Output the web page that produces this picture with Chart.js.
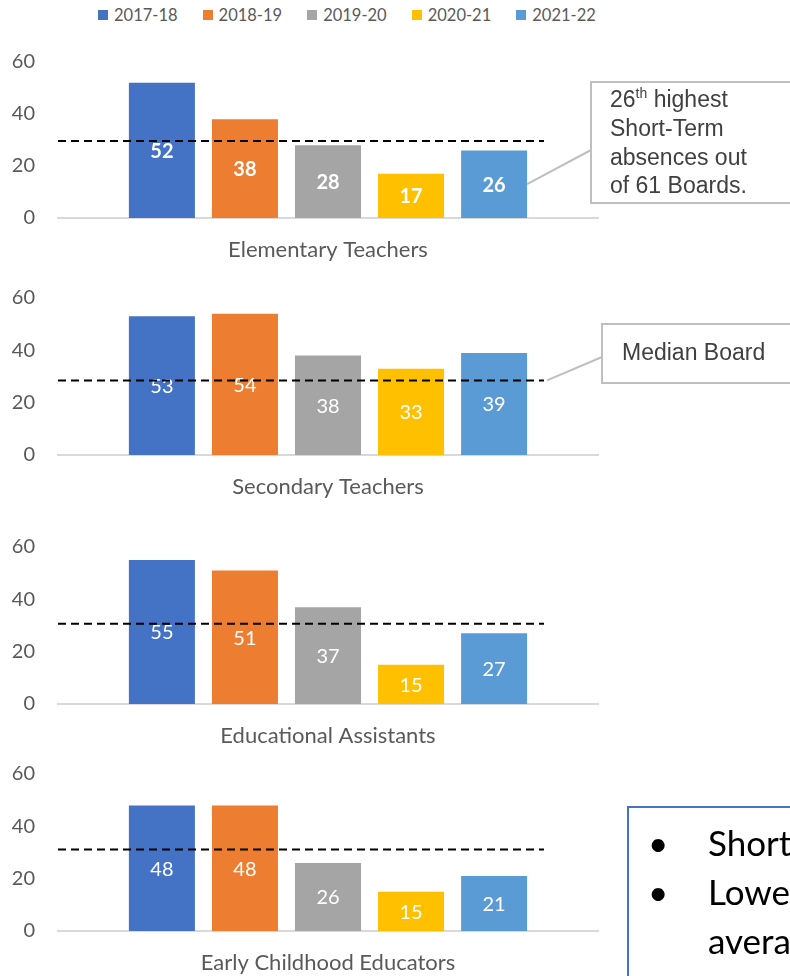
<!DOCTYPE html>
<html>
<head>
<meta charset="utf-8">
<title>Short-Term absences by employee group</title>
<script src="https://cdn.jsdelivr.net/npm/chart.js@4.4.1/dist/chart.umd.min.js"></script>
<style>
  html, body { margin: 0; padding: 0; width: 790px; height: 976px; overflow: hidden; background: #fff; }
  body { position: relative; font-family: Lato, "Open Sans", sans-serif; }
  canvas { position: absolute; left: 0; }
  #legend { position: absolute; left: 98px; top: 5px; margin: 0; padding: 0; list-style: none;
            display: flex; gap: 25px; font-size: 16.5px; line-height: 20px; color: #595959; }
  #legend li { display: flex; align-items: center; white-space: nowrap; }
  #legend .swatch { display: inline-block; width: 10px; height: 10px; margin-right: 6px; }
  .note { position: absolute; left: 627px; top: 806px; width: 430px; height: 200px; box-sizing: border-box;
          border: 2px solid #4472C4; padding-top: 10px; font-size: 35px; line-height: 49px; color: #000; }
  .note div { position: relative; padding-left: 79px; white-space: nowrap; }
  .note .dot { position: absolute; left: 19px; }
</style>
</head>
<body>
<ul id="legend"></ul>
<canvas id="chart0" width="790" height="220" style="top:48px"></canvas>
<canvas id="chart1" width="790" height="221" style="top:284px"></canvas>
<canvas id="chart2" width="790" height="221" style="top:533px"></canvas>
<canvas id="chart3" width="790" height="221" style="top:760px"></canvas>
<div class="note">
  <div><span class="dot">•</span>Short-Term absences</div>
  <div><span class="dot">•</span>Lower than the Board</div>
  <div>average</div>
</div>
<script>
// school years shown in every panel
const seasons = ["2017-18", "2018-19", "2019-20", "2020-21", "2021-22"];
const seasonColors = ["#4472C4", "#ED7D31", "#A5A5A5", "#FFC000", "#5B9BD5"];

// employee groups, one panel each
const groups = ["Elementary Teachers", "Secondary Teachers", "Educational Assistants", "Early Childhood Educators"];

// short-term absence days per employee
const elementary = [52, 38, 28, 17, 26];
const secondary = [53, 54, 38, 33, 39];
const assistants = [55, 51, 37, 15, 27];
const earlyChildhood = [48, 48, 26, 15, 21];

// median board for each group (dashed line)
const medianBoard = [29.6, 28.5, 30.7, 31.1];

const yTicks = [0, 20, 40, 60];

const groupValues = [elementary, secondary, assistants, earlyChildhood];

Chart.defaults.font.family = "Lato";

// html legend built from the first chart's datasets
const htmlLegend = {
  id: "htmlLegend",
  afterUpdate(chart, args, opts) {
    if (!opts.containerID) return;
    const list = document.getElementById(opts.containerID);
    list.innerHTML = "";
    chart.options.plugins.legend.labels.generateLabels(chart).forEach(item => {
      const li = document.createElement("li");
      const box = document.createElement("span");
      box.className = "swatch";
      box.style.background = item.fillStyle;
      li.append(box, document.createTextNode(item.text));
      list.appendChild(li);
    });
  }
};

// value printed in the middle of each bar
const barValueLabels = {
  id: "barValueLabels",
  afterDatasetsDraw(chart, args, opts) {
    const { ctx } = chart;
    ctx.save();
    ctx.font = (opts.bold ? "bold " : "") + "20px Lato";
    ctx.fillStyle = "#fff";
    ctx.textAlign = "center";
    ctx.textBaseline = "middle";
    chart.data.datasets.forEach((ds, k) => {
      chart.getDatasetMeta(k).data.forEach((bar, j) => {
        ctx.fillText(ds.data[j], bar.x, (bar.y + bar.base) / 2 + 1);
      });
    });
    ctx.restore();
  }
};

// dashed median line across most of the plot
const medianLine = {
  id: "medianLine",
  afterDraw(chart, args, opts) {
    const { ctx, chartArea, scales } = chart;
    const y = scales.y.getPixelForValue(opts.value);
    ctx.save();
    ctx.setLineDash([8, 5]);
    ctx.lineWidth = 2;
    ctx.strokeStyle = "#000";
    ctx.beginPath();
    ctx.moveTo(chartArea.left, y);
    ctx.lineTo(chartArea.left + chartArea.width * 0.9, y);
    ctx.stroke();
    ctx.restore();
  }
};

// boxed note with a grey leader line
const callout = {
  id: "callout",
  afterDraw(chart, args, opts) {
    if (!opts.lines) return;
    const { ctx, chartArea, scales } = chart;
    let fromX, fromY;
    if (opts.anchor === "median") {
      fromX = chartArea.left + chartArea.width * 0.9 + 3;
      fromY = scales.y.getPixelForValue(chart.options.plugins.medianLine.value);
    } else {
      const bar = chart.getDatasetMeta(opts.anchor).data[0];
      fromX = bar.x + bar.width / 2;
      fromY = scales.y.getPixelForValue(opts.anchorValue);
    }
    const b = opts.box;
    ctx.save();
    ctx.strokeStyle = "#BFBFBF";
    ctx.lineWidth = 2;
    ctx.beginPath();
    ctx.moveTo(fromX, fromY);
    ctx.lineTo(b.x, opts.joinY);
    ctx.stroke();
    ctx.strokeRect(b.x, b.y, b.w, b.h);

    ctx.fillStyle = "#404040";
    ctx.textBaseline = "middle";
    opts.lines.forEach((line, n) => {
      let x = opts.textX;
      const y = opts.textY + n * 28.7;
      line.split("^").forEach((part, p) => {
        if (p % 2) {
          ctx.font = '14px "Liberation Sans", Arial, sans-serif';
          ctx.fillText(part, x, y - 7);
        } else {
          ctx.font = '23px "Liberation Sans", Arial, sans-serif';
          ctx.fillText(part, x, y);
        }
        x += ctx.measureText(part).width;
      });
    });
    ctx.restore();
  }
};

const callouts = [
  { lines: ["26^th^ highest", "Short-Term", "absences out", "of 61 Boards."],
    box: { x: 591, y: 34, w: 230, h: 121 }, textX: 610, textY: 53, joinY: 102, anchor: 4, anchorValue: 13 },
  { lines: ["Median Board"],
    box: { x: 602, y: 40, w: 220, h: 59 }, textX: 622, textY: 70, joinY: 73, anchor: "median" },
  {},
  {}
];

function buildChart(i) {
  return new Chart(document.getElementById("chart" + i), {
    type: "bar",
    data: {
      labels: [groups[i]],
      datasets: seasons.map((season, k) => ({
        label: season,
        data: [groupValues[i][k]],
        backgroundColor: seasonColors[k],
        categoryPercentage: 0.769,
        barPercentage: 0.795
      }))
    },
    options: {
      responsive: false,
      animation: false,
      layout: { padding: { top: 14, right: 192, left: 0, bottom: 0 } },
      plugins: {
        legend: { display: false },
        tooltip: { enabled: false },
        htmlLegend: { containerID: i === 0 ? "legend" : null },
        barValueLabels: { bold: i === 0 },
        medianLine: { value: medianBoard[i] },
        callout: callouts[i]
      },
      scales: {
        x: {
          grid: { display: false, drawTicks: false },
          border: { display: true, color: "#D9D9D9", width: 2 },
          ticks: { color: "#595959", font: { size: 22 }, padding: 19 },
          afterFit: scale => { scale.height = 50; }
        },
        y: {
          min: yTicks[0],
          max: yTicks[yTicks.length - 1],
          grid: { display: false, drawTicks: false },
          border: { display: false },
          ticks: { color: "#595959", font: { size: 20 }, padding: 23 },
          afterBuildTicks: scale => { scale.ticks = yTicks.map(v => ({ value: v })); },
          afterFit: scale => {
            scale.width = 58;
            scale.paddingTop = 0;
            scale.paddingBottom = 0;
          }
        }
      }
    },
    plugins: [htmlLegend, barValueLabels, medianLine, callout]
  });
}

groups.forEach((g, i) => buildChart(i));
</script>
</body>
</html>
